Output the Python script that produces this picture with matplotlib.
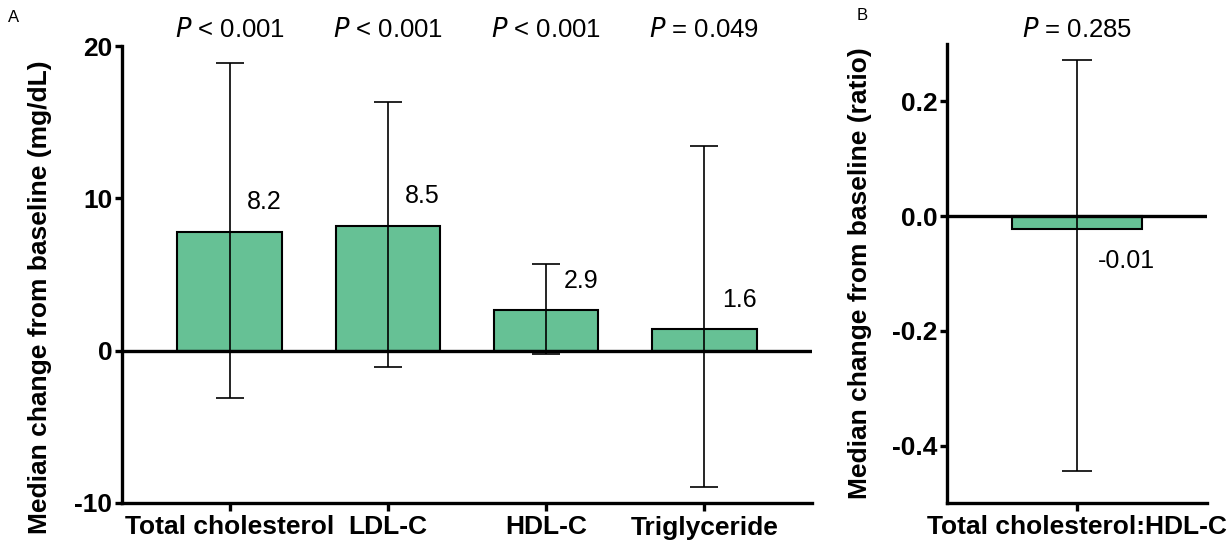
import matplotlib
matplotlib.use("Agg")
import matplotlib.pyplot as plt

plt.rcParams['font.family'] = ['Liberation Sans', 'DejaVu Sans']
plt.rcParams['axes.unicode_minus'] = False

# ---- Data: panel A ----
categories = ["Total cholesterol", "LDL-C", "HDL-C", "Triglyceride"]
bar_values = [7.8, 8.2, 2.65, 1.4]
err_low = [-3.1, -1.05, -0.2, -8.95]
err_high = [18.9, 16.35, 5.7, 13.45]
value_labels = ["8.2", "8.5", "2.9", "1.6"]
p_labels = ["< 0.001", "< 0.001", "< 0.001", "= 0.049"]

# ---- Data: panel B ----
categories_b = ["Total cholesterol:HDL-C"]
bar_values_b = [-0.022]
err_low_b = [-0.445]
err_high_b = [0.272]
value_labels_b = ["-0.01"]
p_labels_b = ["= 0.285"]

bar_color = "#66C195"
W, H = 1228, 542
fig = plt.figure(figsize=(W / 100, H / 100), dpi=100)
fig.patch.set_facecolor("white")

axA = fig.add_axes([122 / W, 1 - 503 / H, 690 / W, 457 / H])
axB = fig.add_axes([947 / W, 1 - 503 / H, 260 / W, 459 / H])

def style(ax):
    for s in ["top", "right"]:
        ax.spines[s].set_visible(False)
    for s in ["left", "bottom"]:
        ax.spines[s].set_linewidth(2.4)
    ax.tick_params(axis="both", width=2.4, length=5, labelsize=19, pad=2)
    ax.tick_params(axis="x", length=6, labelsize=19, pad=3)
    for lab in ax.get_yticklabels() + ax.get_xticklabels():
        lab.set_fontweight("bold")

# Panel A
xs = list(range(len(categories)))
yerr = [[v - lo for v, lo in zip(bar_values, err_low)],
        [hi - v for v, hi in zip(bar_values, err_high)]]
axA.bar(xs, bar_values, width=0.66, color=bar_color, edgecolor="black", linewidth=1.5, zorder=2)
axA.errorbar(xs, bar_values, yerr=yerr, fmt="none", ecolor="black", elinewidth=1.2,
             capsize=10, capthick=1.2, zorder=3)
axA.axhline(0, color="black", linewidth=2.4, zorder=4)
axA.set_xlim(-0.68, 3.68)
axA.set_ylim(-10, 20)
axA.set_yticks([-10, 0, 10, 20])
axA.set_xticks(xs)
axA.set_xticklabels(categories)
style(axA)
axA.set_ylabel("Median change from baseline (mg/dL)", fontsize=19, fontweight="bold")
axA.yaxis.set_label_coords(-0.101, 0.45)
for x, v, lab in zip(xs, bar_values, value_labels):
    axA.text(x + 0.11, v + 1.95, lab, fontsize=18, ha="left", va="center", zorder=5)
for x, p in zip(xs, p_labels):
    axA.text(x, 1.035, r"$\it{P}$" + " " + p, transform=axA.get_xaxis_transform(),
             fontsize=18.5, ha="center", va="center")

# Panel B
xb = [0]
yerr_b = [[v - lo for v, lo in zip(bar_values_b, err_low_b)],
          [hi - v for v, hi in zip(bar_values_b, err_high_b)]]
axB.bar(xb, bar_values_b, width=0.5, color=bar_color, edgecolor="black", linewidth=1.5, zorder=2)
axB.errorbar(xb, bar_values_b, yerr=yerr_b, fmt="none", ecolor="black", elinewidth=1.2,
             capsize=11, capthick=1.2, zorder=3)
axB.axhline(0, color="black", linewidth=2.4, zorder=4)
axB.set_xlim(-0.5, 0.5)
axB.set_ylim(-0.5, 0.3)
axB.set_yticks([-0.4, -0.2, 0.0, 0.2])
axB.set_yticklabels(["-0.4", "-0.2", "0.0", "0.2"])
axB.set_xticks(xb)
axB.set_xticklabels(categories_b)
style(axB)
axB.set_ylabel("Median change from baseline (ratio)", fontsize=19, fontweight="bold")
axB.yaxis.set_label_coords(-0.29, 0.5)
for x, v, lab in zip(xb, bar_values_b, value_labels_b):
    axB.text(x + 0.08, v - 0.057, lab, fontsize=18, ha="left", va="center", zorder=5)
for x, p in zip(xb, p_labels_b):
    axB.text(x, 1.03, r"$\it{P}$" + " " + p, transform=axB.get_xaxis_transform(),
             fontsize=18.5, ha="center", va="center")

fig.text(14 / W, 1 - 17 / H, "A", fontsize=12, ha="center", va="center")
fig.text(862 / W, 1 - 15 / H, "B", fontsize=12, ha="center", va="center")

fig.savefig("out.png", dpi=100, facecolor="white")
